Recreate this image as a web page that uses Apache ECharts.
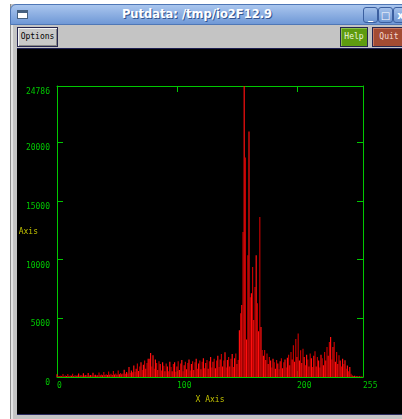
<!DOCTYPE html>
<html><head><meta charset="utf-8">
<script src="https://cdn.jsdelivr.net/npm/echarts@6/dist/echarts.min.js"></script>
<style>
html,body{margin:0;padding:0;width:402px;height:419px;overflow:hidden;background:#fff;}
.abs{position:absolute;box-sizing:border-box;}
#frame{left:10px;top:4px;width:400px;height:420px;background:#c4c4c4;border-left:1px solid #8c8c8c;}
#inner{left:11px;top:25px;width:2px;height:400px;background:#e4e4e4;}
#tb{left:10px;top:4px;width:400px;height:21px;border-radius:6px 6px 0 0;background:linear-gradient(#aac6ee,#6f98d6);border:1px solid #4f77b6;}
#ttl{left:0;top:4px;width:394px;height:21px;text-align:center;color:#fff;font:bold 11.5px "DejaVu Sans",sans-serif;line-height:21px;text-shadow:1px 1px 0 #33558f;}
#icon{left:17px;top:10px;width:11px;height:9px;background:#fff;border:1px solid #46607f;border-top:3px solid #46607f;}
.wb{top:7px;width:15px;height:16px;border:1px solid #3b5f9f;border-radius:3px;background:linear-gradient(#a3c0ea,#6c95d2);color:#fff;font:bold 10px "DejaVu Sans",sans-serif;text-align:center;line-height:15px;}
.btn{top:27px;height:20px;border:1px solid #262650;font:8px "DejaVu Sans Mono",monospace;text-align:center;line-height:18px;}
#opt{left:17px;width:41px;background:#c8c8c8;color:#000;box-shadow:inset 1px 1px 0 #f4f4f4, inset -1px -1px 0 #888;}
#help{left:340px;width:28px;background:#5e9b10;color:#eaf6da;box-shadow:inset 1px 1px 0 #8cc04a;}
#quit{left:372px;width:34px;background:#a34b33;color:#f6dcd4;box-shadow:inset 1px 1px 0 #c8785f;}
#topline{left:17px;top:48px;width:390px;height:1px;background:#1e1e52;}
#botline{left:17px;top:414px;width:390px;height:1px;background:#2a2a5e;}
#chart{left:17px;top:49px;width:385px;height:365px;}
</style></head>
<body>
<div id="frame" class="abs"></div>
<div id="inner" class="abs"></div>
<div id="tb" class="abs"></div>
<div id="ttl" class="abs">Putdata: /tmp/io2F12.9</div>
<div id="icon" class="abs"></div>
<div class="abs wb" style="left:363px">_</div>
<div class="abs wb" style="left:378px">□</div>
<div class="abs wb" style="left:393px">x</div>
<div id="opt" class="abs btn">Options</div>
<div id="help" class="abs btn">Help</div>
<div id="quit" class="abs btn">Quit</div>
<div id="topline" class="abs"></div>
<div id="botline" class="abs"></div>
<div id="chart" class="abs"></div>
<script>
// Histogram bins 0..255 and counts
const binCount = 256;
const counts = [
 240,90,60,110,80,250,70,120,90,260,80,130,100,280,90,140,
 100,120,300,110,150,100,320,120,160,110,340,130,170,120,360,140,
 190,130,150,380,150,210,140,420,170,240,160,460,190,270,180,520,
 210,300,200,560,240,340,230,300,620,280,420,300,850,360,560,400,
 990,450,700,1140,520,900,1250,600,1050,1400,700,1200,1550,1560,2040,900,
 1850,700,1500,1200,600,1350,1100,550,1250,950,500,1150,900,480,1300,850,
 500,1100,1250,450,900,1350,600,1150,1450,500,1000,1300,650,1200,1500,550,
 1100,1350,600,1250,1550,700,1150,1400,650,1300,1600,750,1200,1450,700,1350,
 1700,800,1300,1550,750,1400,1800,850,1500,1950,900,1400,2100,800,1450,1700,
 900,1550,1950,850,1600,2000,1100,1440,3980,5430,6130,12350,24786,18700,3200,10380,
 20900,6800,7130,9370,4850,7670,10380,6280,3900,13630,4260,2300,1800,2300,1450,2000,
 1100,1700,1400,800,1550,1250,700,1450,1150,650,1350,1600,750,1250,1500,800,
 1650,1900,1000,2130,1500,2700,1300,3240,1700,3700,1400,2270,1200,2400,1700,1000,
 1900,1500,900,2000,1600,850,1800,2200,900,1700,1400,800,1900,1600,1000,2130,
 1400,2560,1800,2980,3400,1500,2560,2980,1300,2130,1100,1850,1400,900,1560,1100,
 1420,700,990,500,850,280,120,90,100,60,80,50,60,40,50,30
];
const xTickLabels = ['0','100','200','255'];
const yMax = 24786;
const xName = 'X Axis';
const yName = 'Axis';

const bins = Array.from({length: binCount}, (_, i) => i);
const G = '#00c800';
const YEL = '#c0c000';
const FONT = '"DejaVu Sans Mono", monospace';

const chart = echarts.init(document.getElementById('chart'), null, {renderer: 'canvas'});
const axisCommon = {
  axisLine: {show: true, onZero: false, lineStyle: {color: G, width: 1}},
  axisTick: {show: true, inside: true, length: 6, lineStyle: {color: G, width: 1}},
  splitLine: {show: false}
};
chart.setOption({
  backgroundColor: '#000',
  animation: false,
  grid: {left: 40, right: 39, top: 37, bottom: 37, containLabel: false, outerBoundsMode: 'none'},
  xAxis: [
    Object.assign({
      type: 'value', min: 0, max: 255, interval: 100, position: 'bottom',
      axisLabel: {color: G, fontFamily: FONT, fontSize: 8, margin: 5, align: 'left',
        formatter: v => xTickLabels.includes(String(v)) ? String(v) : ''},
      name: xName, nameLocation: 'middle', nameGap: 19, nameMoveOverlap: false,
      nameTextStyle: {color: YEL, fontFamily: FONT, fontSize: 8}
    }, axisCommon),
    Object.assign({
      type: 'value', min: 0, max: 255, interval: 100, position: 'top',
      axisLabel: {show: false}
    }, axisCommon)
  ],
  yAxis: [
    Object.assign({
      type: 'value', min: 0, max: yMax, interval: 5000, position: 'left',
      axisLabel: {color: G, fontFamily: FONT, fontSize: 8, margin: 7, verticalAlign: 'top',
        padding: [2, 0, 0, 0], formatter: v => String(v)},
      name: yName, nameLocation: 'middle', nameGap: 19, nameRotate: 0, nameMoveOverlap: false,
      nameTextStyle: {color: YEL, fontFamily: FONT, fontSize: 8, align: 'right', verticalAlign: 'middle'}
    }, axisCommon),
    Object.assign({
      type: 'value', min: 0, max: yMax, interval: 5000, position: 'right',
      axisLabel: {show: false}
    }, axisCommon)
  ],
  series: [{
    type: 'bar',
    xAxisIndex: 0, yAxisIndex: 0,
    barWidth: 1.2,
    data: bins.map((b, i) => [b, counts[i]]),
    itemStyle: {color: p => (p.dataIndex % 2 ? '#c00000' : '#ff1010')}
  }]
});
</script>
</body></html>
